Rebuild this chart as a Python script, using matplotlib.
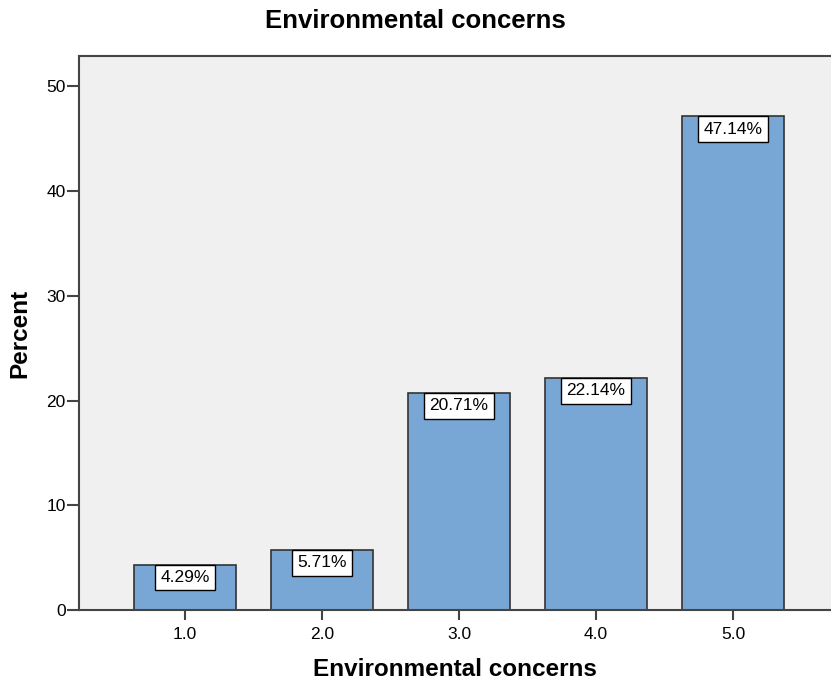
import matplotlib.pyplot as plt

# Data
categories = ["1.0", "2.0", "3.0", "4.0", "5.0"]
percents = [4.29, 5.71, 20.71, 22.14, 47.14]
value_labels = ["4.29%", "5.71%", "20.71%", "22.14%", "47.14%"]
yticks = [0, 10, 20, 30, 40, 50]

BAR_COLOR = "#79a7d5"
EDGE_COLOR = "#333333"
BG_COLOR = "#f0f0f0"
SPINE_COLOR = "#444444"

plt.rcParams["font.family"] = ["Liberation Sans", "DejaVu Sans"]

fig = plt.figure(figsize=(8.31, 6.84), dpi=100)
ax = fig.add_axes([0.0951, 0.1082, 0.905, 0.8099])
ax.set_facecolor(BG_COLOR)

xpos = list(range(1, len(categories) + 1))
ax.bar(xpos, percents, width=0.75, color=BAR_COLOR, edgecolor=EDGE_COLOR, linewidth=1.2, zorder=2)

# value boxes sit with their top edge on the bar top
lab_size = 12.5
box_pad = 0.3
for x, v, lab in zip(xpos, percents, value_labels):
    ax.annotate(lab, (x, v), xytext=(0, -box_pad * lab_size), textcoords="offset points",
                ha="center", va="top", fontsize=lab_size, zorder=3,
                bbox=dict(boxstyle=f"square,pad={box_pad}", fc="white", ec="black", lw=1))

ax.set_xlim(0.226, 5.715)
ax.set_ylim(0, 52.9)
ax.set_xticks(xpos)
ax.set_xticklabels(categories)
ax.set_yticks(yticks)

for side in ["left", "top", "bottom"]:
    ax.spines[side].set_color(SPINE_COLOR)
    ax.spines[side].set_linewidth(1.5)
ax.spines["right"].set_visible(False)

ax.tick_params(axis="x", length=7, width=1.5, color=SPINE_COLOR, labelsize=12.5, pad=5)
ax.tick_params(axis="y", length=8.5, width=1.5, color=SPINE_COLOR, labelsize=12.5, pad=1)

ax.set_xlabel("Environmental concerns", fontsize=17.5, fontweight="bold", labelpad=12)
ax.set_ylabel("Percent", fontsize=17.5, fontweight="bold", labelpad=11)
fig.text(0.5, 0.969, "Environmental concerns", ha="center", va="center",
         fontsize=18.5, fontweight="bold")

fig.savefig("out.png", dpi=100)
